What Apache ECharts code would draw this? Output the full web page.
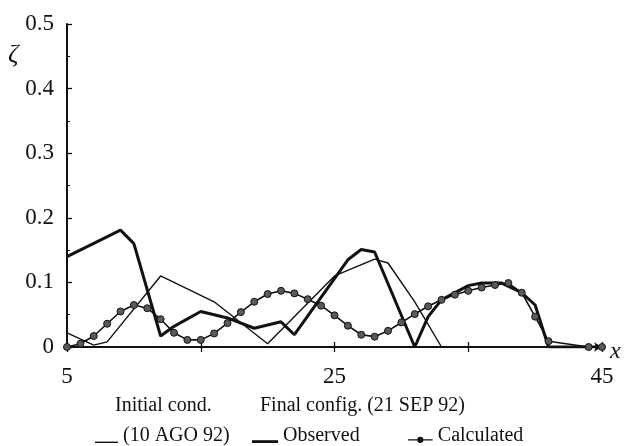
<!DOCTYPE html>
<html lang="en">
    <head>
        <title>Observed vs calculated profile</title>
        <meta charset="utf-8">
        <script src='https://cdn.jsdelivr.net/npm/echarts@6/dist/echarts.min.js'></script>
    </head>

    <style>
        html, body, #main {
            width: 100%;
            height: 100%;
            margin: 0;
            background: #fff;
        }
    </style>

    <body>
        <div id='main'></div>

        <script>
            // Initial condition (10 AGO 92), thin line
            const initX = [5, 7, 8, 12, 16, 20, 25, 28, 29, 31, 33];
            const initY = [0.022, 0.003, 0.008, 0.11, 0.07, 0.005, 0.11, 0.136, 0.13, 0.07, 0];

            // Observed final configuration, thick line
            const obsX = [5, 9, 10, 12, 13, 15, 17, 19, 21, 22, 26, 27, 28, 31, 32, 33, 35, 36, 37.5, 39, 40, 41, 45];
            const obsY = [0.14, 0.181, 0.16, 0.017, 0.032, 0.055, 0.045, 0.029, 0.039, 0.019, 0.135, 0.151, 0.147, 0, 0.047, 0.073, 0.095, 0.099, 0.099, 0.084, 0.065, 0, 0];

            // Calculated final configuration, line with dots
            const calcX = [5, 6, 7, 8, 9, 10, 11, 12, 13, 14, 15, 16, 17, 18, 19, 20, 21, 22, 23, 24, 25,
                           26, 27, 28, 29, 30, 31, 32, 33, 34, 35, 36, 37, 38, 39, 40, 41, 44, 45];
            const calcY = [0, 0.005, 0.017, 0.036, 0.055, 0.065, 0.06, 0.043, 0.022, 0.011, 0.011, 0.021, 0.037, 0.054, 0.07, 0.082, 0.087, 0.083, 0.074, 0.064, 0.049,
                           0.033, 0.019, 0.016, 0.025, 0.038, 0.051, 0.063, 0.073, 0.081, 0.087, 0.092, 0.096, 0.099, 0.084, 0.047, 0.009, 0, 0];

            const xLabels = [5, 25, 45];

            const serif = "'Liberation Serif', 'Times New Roman', serif";
            const pairs = (xs, ys) => xs.map((x, i) => [x, ys[i]]);

            const chart = echarts.init(document.getElementById('main'));

            const legendText = { fontFamily: serif, fontSize: 20, color: '#111' };

            // legend samples sit low in a 14px box, like underscores on the text baseline
            const thinIcon = 'path://M0,0 M0,12.6 L23,12.6 L23,14 L0,14 Z';
            const thickIcon = 'path://M0,0 M0,11.2 L26,11.2 L26,14 L0,14 Z';
            const dotIcon = 'path://M0,0 M0,10.4 L9.3,10.4 L9.3,11.6 L0,11.6 Z M15.7,10.4 L25,10.4 L25,11.6 L15.7,11.6 Z ' +
                            'M9.3,11 A3.2,3.2 0 1 0 15.7,11 A3.2,3.2 0 1 0 9.3,11 Z M25,14';

            const option = {
                animation: false,
                grid: { left: 67, right: 22, top: 24, bottom: 99 },
                xAxis: [{
                    type: 'value',
                    min: 5,
                    max: 45,
                    interval: 10,
                    axisLine: {
                        lineStyle: { color: '#111', width: 2 },
                        symbol: ['none', 'arrow'],
                        symbolSize: [7, 8]
                    },
                    axisTick: { length: 5, lineStyle: { color: '#111', width: 1.3 } },
                    axisLabel: {
                        margin: 18,
                        fontFamily: serif,
                        fontSize: 23,
                        color: '#111',
                        formatter: v => xLabels.includes(v) ? String(v) : ''
                    },
                    splitLine: { show: false }
                }, {
                    type: 'value',
                    position: 'top',
                    offset: -323,
                    min: 5,
                    max: 45,
                    interval: 10,
                    axisLine: { show: false },
                    axisTick: { length: 5, lineStyle: { color: '#111', width: 1.3 } },
                    axisLabel: { show: false },
                    splitLine: { show: false }
                }],
                yAxis: {
                    type: 'value',
                    min: 0,
                    max: 0.5,
                    interval: 0.1,
                    axisLine: { show: true, lineStyle: { color: '#111', width: 2 } },
                    axisTick: { show: true, inside: true, length: 5, lineStyle: { color: '#111', width: 1.3 } },
                    minorTick: { show: true, splitNumber: 2, length: 3, lineStyle: { color: '#111', width: 1 } },
                    axisLabel: {
                        margin: 13,
                        fontFamily: serif,
                        fontSize: 23,
                        color: '#111',
                        formatter: v => v === 0 ? '0' : v.toFixed(1)
                    },
                    splitLine: { show: false }
                },
                legend: [{
                    data: [{ name: '(10 AGO 92)', icon: thinIcon }],
                    left: 95, top: 426, padding: 0,
                    itemWidth: 23, itemHeight: 14,
                    itemStyle: { color: '#111', borderWidth: 0 },
                    textStyle: legendText
                }, {
                    data: [{ name: 'Observed', icon: thickIcon }],
                    left: 252, top: 426, padding: 0,
                    itemWidth: 26, itemHeight: 14,
                    itemStyle: { color: '#111', borderWidth: 0 },
                    textStyle: legendText
                }, {
                    data: [{ name: 'Calculated', icon: dotIcon }],
                    left: 408, top: 426, padding: 0,
                    itemWidth: 25, itemHeight: 14,
                    itemStyle: { color: '#111', borderWidth: 0 },
                    textStyle: legendText
                }],
                graphic: [
                    { type: 'text', left: 8, top: 42, style: { text: 'ζ', font: 'italic 26px ' + serif, fill: '#111' } },
                    { type: 'text', left: 610, top: 340, style: { text: 'x', font: 'italic 24px ' + serif, fill: '#111' } },
                    { type: 'text', left: 115, top: 396, style: { text: 'Initial cond.', font: '20px ' + serif, fill: '#111' } },
                    { type: 'text', left: 260, top: 396, style: { text: 'Final config. (21 SEP 92)', font: '20px ' + serif, fill: '#111' } }
                ],
                series: [{
                    name: '(10 AGO 92)',
                    type: 'line',
                    symbol: 'none',
                    lineStyle: { color: '#111', width: 1.4 },
                    itemStyle: { color: '#111' },
                    data: pairs(initX, initY)
                }, {
                    name: 'Observed',
                    type: 'line',
                    symbol: 'none',
                    lineStyle: { color: '#111', width: 3 },
                    itemStyle: { color: '#111' },
                    data: pairs(obsX, obsY)
                }, {
                    name: 'Calculated',
                    type: 'line',
                    symbol: 'circle',
                    symbolSize: 7,
                    lineStyle: { color: '#111', width: 1.6 },
                    itemStyle: { color: '#5a5a5a', borderColor: '#111', borderWidth: 1 },
                    data: pairs(calcX, calcY)
                }]
            };

            chart.setOption(option);

            window.onresize = function () {
                chart.resize();
            }
        </script>
    </body>
</html>
